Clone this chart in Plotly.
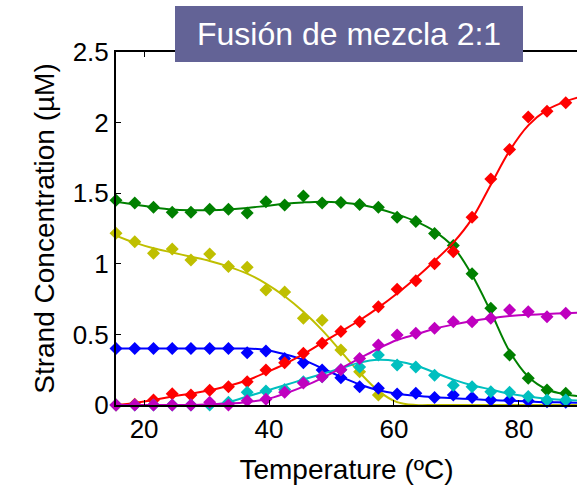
import plotly.graph_objects as go

# Temperature grid (ºC)
T = [15.5 + 3 * i for i in range(25)]
T_fit = T + [90.5]

# Measured strand concentrations (µM)
green = [1.45, 1.43, 1.40, 1.365, 1.365, 1.386, 1.386, 1.36, 1.44, 1.416, 1.48, 1.43, 1.435,
         1.42, 1.40, 1.33, 1.30, 1.215, 1.13, 0.93, 0.685, 0.354, 0.19, 0.106, 0.083]
yellow = [1.216, 1.157, 1.074, 1.105, 1.027, 1.069, 0.98, 0.975, 0.814, 0.80, 0.614, 0.60, 0.39,
          0.236, 0.07, -0.01, -0.01, -0.01, -0.01, -0.01, -0.01, -0.01, -0.01, -0.01, -0.01]
blue = [0.40, 0.40, 0.40, 0.40, 0.40, 0.40, 0.40, 0.37, 0.382, 0.33, 0.30, 0.248, 0.193,
        0.13, 0.118, 0.078, 0.083, 0.054, 0.07, 0.054, 0.035, 0.035, 0.028, 0.023, 0.02]
red = [0.0, 0.005, 0.035, 0.08, 0.07, 0.105, 0.13, 0.165, 0.248, 0.30, 0.366, 0.437, 0.52,
       0.59, 0.696, 0.82, 0.88, 1.00, 1.086, 1.33, 1.60, 1.81, 2.04, 2.08, 2.14]
cyan = [0.0, 0.0, 0.0, 0.0, 0.0, 0.0, 0.02, 0.09, 0.10, 0.11, 0.165, 0.20, 0.25,
        0.27, 0.354, 0.283, 0.27, 0.21, 0.14, 0.13, 0.094, 0.09, 0.06, 0.035, 0.035]
magenta = [0.0, 0.0, 0.0, 0.0, 0.0, 0.02, 0.0, 0.03, 0.04, 0.09, 0.155, 0.20, 0.25,
           0.33, 0.425, 0.496, 0.508, 0.543, 0.59, 0.59, 0.614, 0.673, 0.66, 0.625, 0.65]

# Fitted curves (µM), read at the same temperatures plus one point past the edge
green_fit = [1.44, 1.42, 1.40, 1.385, 1.38, 1.38, 1.385, 1.395, 1.41, 1.425, 1.435, 1.44, 1.435,
             1.42, 1.39, 1.35, 1.30, 1.23, 1.12, 0.92, 0.66, 0.38, 0.20, 0.11, 0.075, 0.06]
yellow_fit = [1.20, 1.15, 1.11, 1.08, 1.05, 1.02, 0.98, 0.93, 0.86, 0.77, 0.66, 0.53, 0.38,
              0.23, 0.10, 0.02, 0.0, 0.0, 0.0, 0.0, 0.0, 0.0, 0.0, 0.0, 0.0, 0.0]
blue_fit = [0.40, 0.40, 0.40, 0.40, 0.40, 0.40, 0.40, 0.40, 0.39, 0.36, 0.32, 0.26, 0.20,
            0.145, 0.105, 0.08, 0.065, 0.055, 0.048, 0.042, 0.035, 0.03, 0.025, 0.02, 0.018, 0.015]
red_fit = [0.0, 0.015, 0.035, 0.06, 0.08, 0.105, 0.135, 0.175, 0.23, 0.29, 0.36, 0.44, 0.52,
           0.60, 0.69, 0.79, 0.90, 1.02, 1.15, 1.32, 1.56, 1.80, 1.98, 2.09, 2.15, 2.19]
cyan_fit = [None, None, None, None, None, 0.0, 0.02, 0.06, 0.10, 0.14, 0.18, 0.22, 0.26,
            0.30, 0.32, 0.31, 0.28, 0.23, 0.18, 0.14, 0.11, 0.08, 0.06, 0.045, 0.035, 0.03]
magenta_fit = [0.0, 0.0, 0.0, 0.0, 0.0, 0.005, 0.01, 0.02, 0.04, 0.08, 0.13, 0.19, 0.26,
               0.33, 0.40, 0.46, 0.50, 0.54, 0.57, 0.595, 0.615, 0.63, 0.64, 0.645, 0.65, 0.655]

x_ticks = [20, 40, 60, 80]
y_ticks = [0, 0.5, 1, 1.5, 2, 2.5]
y_tick_text = ["0", "0.5", "1", "1.5", "2", "2.5"]

title_text = "Fusión de mezcla 2:1"
x_title = "Temperature (ºC)"
y_title = "Strand Concentration (µM)"

series = [
    (green, green_fit, "#008000"),
    (yellow, yellow_fit, "#bfbf00"),
    (blue, blue_fit, "#0000ff"),
    (red, red_fit, "#ff0000"),
    (cyan, cyan_fit, "#00bfbf"),
    (magenta, magenta_fit, "#bf00bf"),
]

fig = go.Figure()
for vals, fit, col in series:
    fig.add_trace(go.Scatter(x=T_fit, y=fit, mode="lines", line=dict(color=col, width=2, shape="spline"),
                             showlegend=False, hoverinfo="skip", cliponaxis=True))
    fig.add_trace(go.Scatter(x=T, y=vals, mode="markers",
                             marker=dict(symbol="diamond", size=10, color=col, line=dict(width=0)),
                             showlegend=False, cliponaxis=False))

FONT = "Liberation Sans, Arial, sans-serif"
fig.update_layout(
    width=577, height=494,
    margin=dict(l=116, r=0, t=52, b=89),
    paper_bgcolor="white", plot_bgcolor="white",
    font=dict(family=FONT, color="black"),
    xaxis=dict(range=[15.5, 89.3], tickvals=x_ticks, ticks="inside", ticklen=5, tickcolor="black",
               showline=True, linecolor="black", linewidth=2, mirror="ticks", showgrid=False,
               zeroline=False, tickfont=dict(size=26, family=FONT),
               title=dict(text=x_title, font=dict(size=28, family=FONT), standoff=16)),
    yaxis=dict(range=[0, 2.5], tickvals=y_ticks, ticktext=y_tick_text, ticks="inside", ticklen=5,
               tickcolor="black", showline=True, linecolor="black", linewidth=2, showgrid=False,
               zeroline=False, tickfont=dict(size=26, family=FONT),
               title=dict(text=y_title, font=dict(size=28, family=FONT), standoff=10)),
)

# Title box
fig.add_shape(type="rect", xref="paper", yref="paper", x0=(175 - 116) / 461, x1=(523 - 116) / 461,
              y0=(405 - 62) / 353, y1=(405 - 6) / 353, fillcolor="#636396", line=dict(width=0),
              layer="above")
fig.add_annotation(xref="paper", yref="paper", x=(349 - 116) / 461, y=(405 - 34) / 353,
                   text=title_text, showarrow=False, font=dict(size=32, color="white", family=FONT),
                   xanchor="center", yanchor="middle")

fig.write_html("out.html")
